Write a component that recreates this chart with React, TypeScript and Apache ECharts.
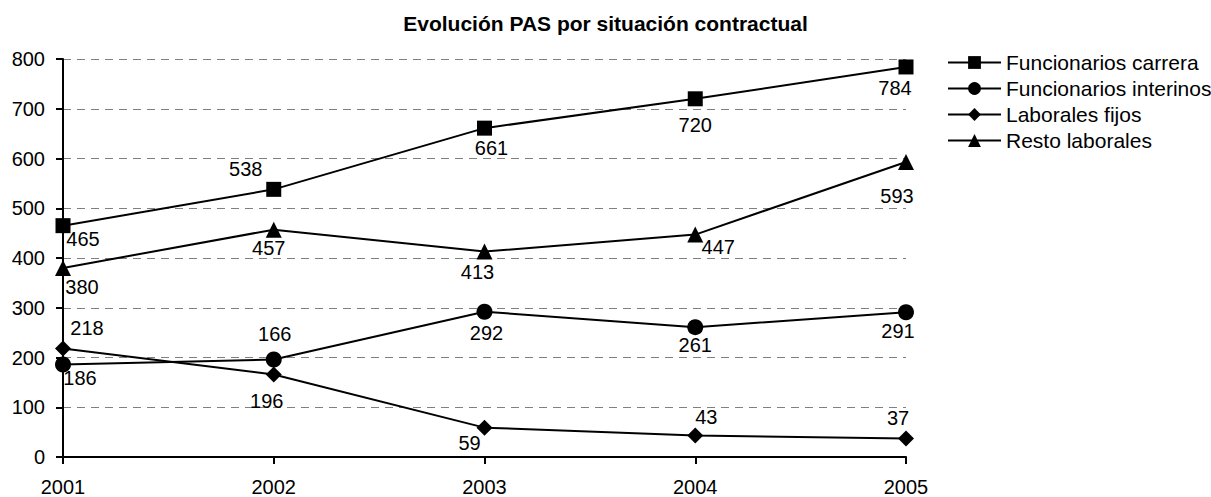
import React, { useEffect, useRef } from "react";
import * as echarts from "echarts";

const years = ["2001", "2002", "2003", "2004", "2005"];
const funcionariosCarrera = [465, 538, 661, 720, 784];
const funcionariosInterinos = [186, 196, 292, 261, 291];
const laboralesFijos = [218, 166, 59, 43, 37];
const restoLaborales = [380, 457, 413, 447, 593];

const seriesNames = [
  "Funcionarios carrera",
  "Funcionarios interinos",
  "Laborales fijos",
  "Resto laborales",
];

// label placement (layout only)
const offCarrera = [[20, 13], [-28, -20], [7, 20], [0, 26], [-11, 21]];
const offInterinos = [[17, 14], [-7, 42], [2, 21], [0, 18], [-8, 19]];
const offFijos = [[24, -21], [1, -40], [-15, 15], [11, -19], [-8, -21]];
const offResto = [[19, 19], [-5, 18], [-7, 20], [23, 12], [-9, 34]];

const FONT = "'Liberation Sans', Arial, sans-serif";

function buildSeries(name: string, values: number[], offs: number[][], symbol: string) {
  return {
    name,
    type: "line",
    symbol,
    symbolSize: symbol === "rect" ? 15 : 16,
    lineStyle: { color: "#000", width: 2 },
    itemStyle: { color: "#000" },
    label: {
      show: true,
      position: "inside",
      color: "#000",
      fontSize: 20,
      fontFamily: FONT,
      textBorderWidth: 0,
    },
    data: values.map((v, i) => ({ value: v, label: { offset: offs[i] } })),
  };
}

export default function App() {
  const ref = useRef<HTMLDivElement>(null);
  useEffect(() => {
    document.body.style.margin = "0";
    const chart = echarts.init(ref.current!, undefined, { renderer: "svg" });
    chart.setOption({
      animation: false,
      backgroundColor: "#fff",
      title: {
        text: "Evolución PAS por situación contractual",
        left: "center",
        top: 8,
        textStyle: { fontSize: 21, fontWeight: "bold", color: "#000", fontFamily: FONT },
      },
      legend: {
        orient: "vertical",
        left: 942,
        top: 47,
        itemWidth: 53,
        itemHeight: 16,
        itemGap: 5,
        data: seriesNames,
        lineStyle: { width: 2 },
        textStyle: { fontSize: 21, color: "#000", fontFamily: FONT, lineHeight: 21 },
      },
      grid: { left: 63, right: 305, top: 59, bottom: 39 },
      xAxis: {
        type: "category",
        data: years,
        boundaryGap: false,
        axisLine: { lineStyle: { color: "#000", width: 2 } },
        axisTick: { show: true, length: 7, lineStyle: { color: "#000", width: 2 } },
        axisLabel: { color: "#000", fontSize: 20, fontFamily: FONT, margin: 20 },
      },
      yAxis: {
        type: "value",
        min: 0,
        max: 800,
        interval: 100,
        axisLine: { show: true, lineStyle: { color: "#000", width: 2 } },
        axisTick: { show: true, length: 7, lineStyle: { color: "#000", width: 2 } },
        axisLabel: { color: "#000", fontSize: 20, fontFamily: FONT, margin: 18 },
        splitLine: { lineStyle: { color: "#808080", width: 1, type: [8, 6] } },
      },
      series: [
        buildSeries(seriesNames[0], funcionariosCarrera, offCarrera, "rect"),
        buildSeries(seriesNames[1], funcionariosInterinos, offInterinos, "circle"),
        buildSeries(seriesNames[2], laboralesFijos, offFijos, "diamond"),
        buildSeries(seriesNames[3], restoLaborales, offResto, "triangle"),
      ],
    });
    return () => chart.dispose();
  }, []);
  return <div ref={ref} style={{ width: 1211, height: 497 }} />;
}
